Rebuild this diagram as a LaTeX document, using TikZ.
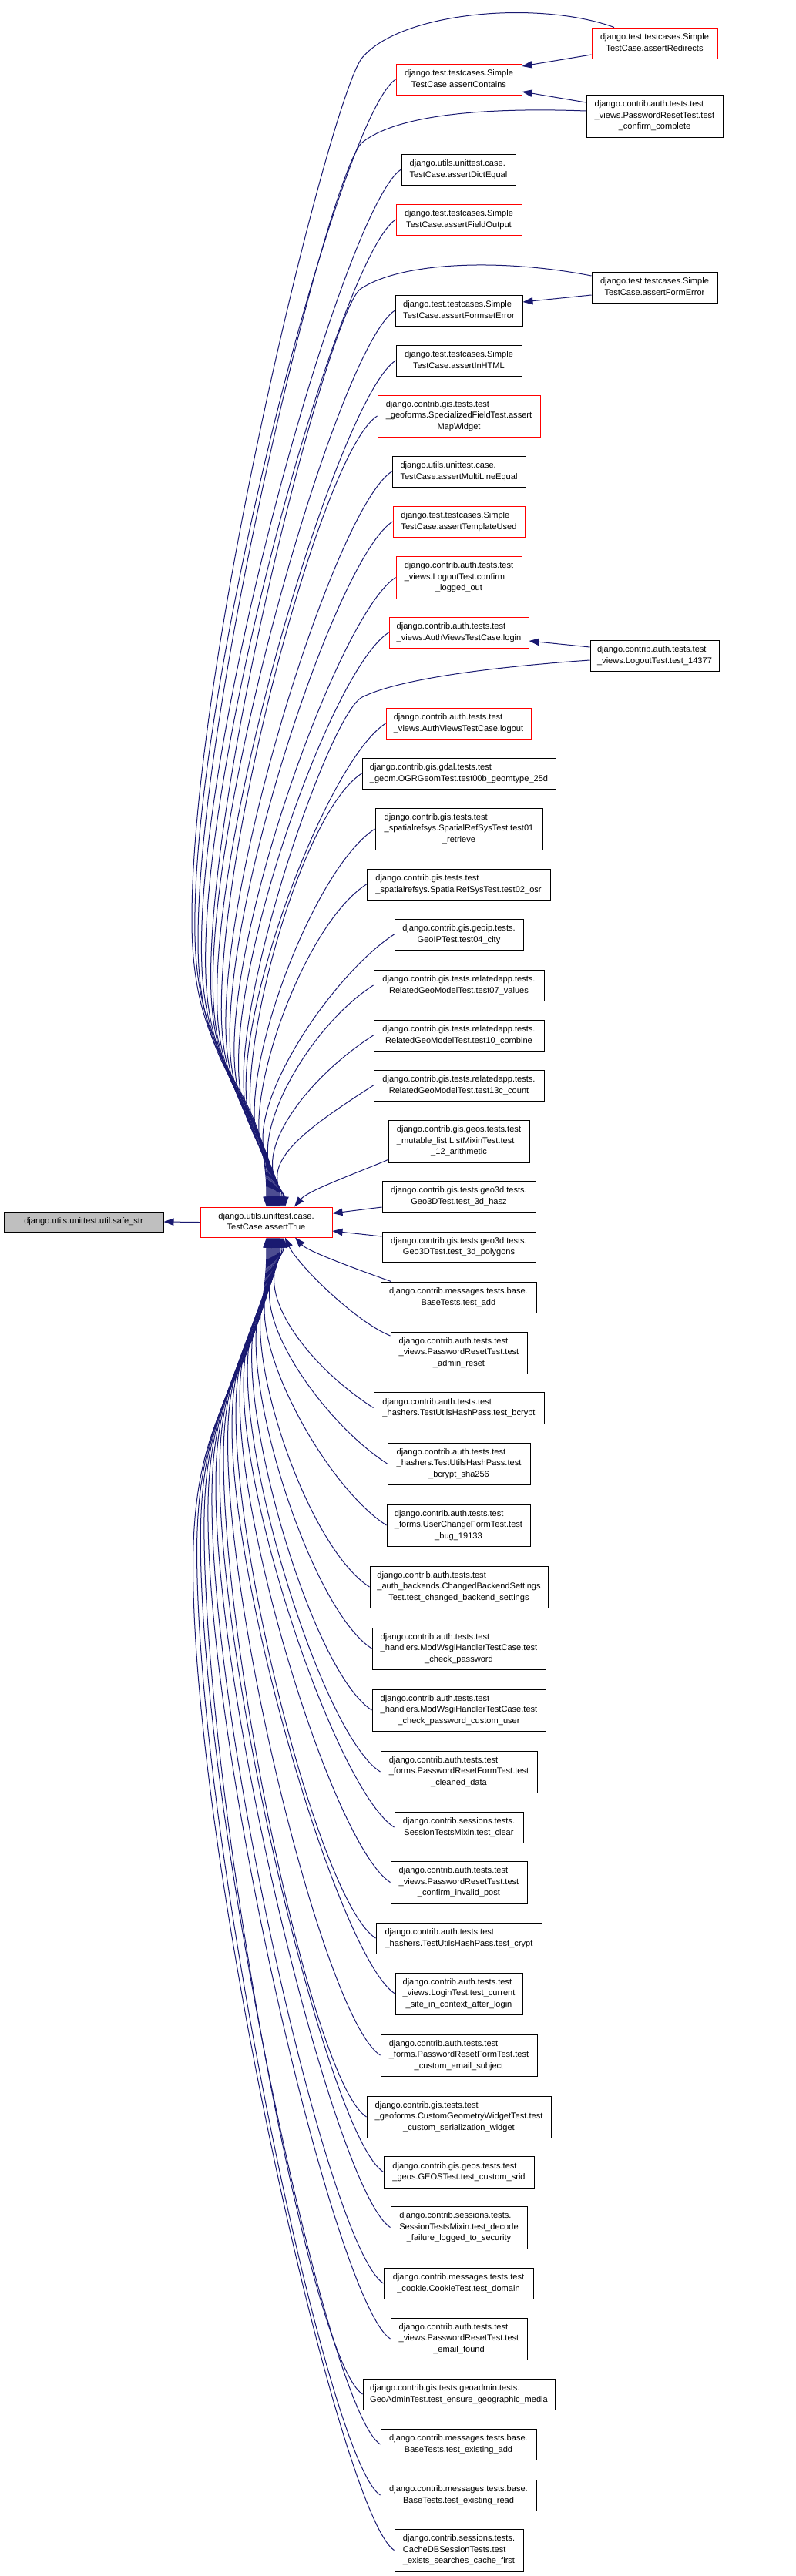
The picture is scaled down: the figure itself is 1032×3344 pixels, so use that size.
\documentclass[tikz,border=0pt]{standalone}
\usepackage{fontspec}
\setmainfont{Liberation Sans}
\usetikzlibrary{arrows.meta,calc}
\definecolor{edgeblue}{HTML}{191970}
\definecolor{nodegray}{HTML}{BFBFBF}
\newcommand{\TL}[2]{\begin{tabular}{@{}l@{}}#1\multicolumn{1}{@{}c@{}}{#2}\end{tabular}}
\newcommand{\nd}[7]{\node[box,draw=#6,minimum width={(#4-#2)*0.75pt},minimum height={(#5-#3)*0.75pt}] (#1) at ({(#2+#4)/2},{(#3+#5)/2}) {#7};}
% top fan: name, y of node centre, x of arrow end
\newcommand{\TE}[3]{%
 \pgfmathsetmacro{\fD}{1567-#2}%
 \pgfmathsetmacro{\fWx}{#3-0.065*\fD}%
 \pgfmathsetmacro{\fWy}{1567-0.25*\fD}%
 \pgfmathsetmacro{\fCa}{\fWy-0.3*(\fWy-#2)}%
 \pgfmathsetmacro{\fCb}{\fWy+0.55*(1567-\fWy)}%
 \pgfmathsetmacro{\fCc}{1567-0.45*(1567-\fWy)}%
 \draw[edge] (#1.west) .. controls ($(#1.west)+(-70,45)$) and (\fWx,\fCa) .. (\fWx,\fWy) .. controls (\fWx,\fCb) and (#3,\fCc) .. ($(at.north)+(#3-345.5,0)$);}
% bottom fan
\newcommand{\BE}[3]{%
 \pgfmathsetmacro{\fD}{#2-1606}%
 \pgfmathsetmacro{\fWx}{#3-0.056*\fD}%
 \pgfmathsetmacro{\fWy}{1606+0.25*\fD}%
 \pgfmathsetmacro{\fCa}{\fWy+0.3*(#2-\fWy)}%
 \pgfmathsetmacro{\fCb}{\fWy-0.55*(\fWy-1606)}%
 \pgfmathsetmacro{\fCc}{1606+0.45*(\fWy-1606)}%
 \draw[edge] (#1.west) .. controls ($(#1.west)+(-70,-45)$) and (\fWx,\fCa) .. (\fWx,\fWy) .. controls (\fWx,\fCb) and (#3,\fCc) .. ($(at.south)+(#3-345.5,0)$);}
\begin{document}
\begin{tikzpicture}[x=0.75pt,y=-0.75pt,
 box/.style={rectangle,inner sep=0pt,line width=0.75pt,fill=white,font=\fontsize{8.3}{10.9}\selectfont},
 edge/.style={draw=edgeblue,line width=0.75pt,-{Triangle[length=9.75pt,width=7pt]}}]
\useasboundingbox (0,0) rectangle (1032,3344);
\node[box,draw=black,fill=nodegray,minimum width={207*0.75pt},minimum height={26*0.75pt}] (safe) at (108.5,1586) {django.utils.unittest.util.safe\_str};
\nd{at}{260}{1567}{431}{1606}{red}{\TL{django.utils.unittest.case.\\}{TestCase.assertTrue}}
\nd{redirects}{768}{36}{931}{76}{red}{\TL{django.test.testcases.Simple\\}{TestCase.assertRedirects}}
\nd{contains}{514}{83}{677}{123}{red}{\TL{django.test.testcases.Simple\\}{TestCase.assertContains}}
\nd{cc}{761}{123}{938}{178}{black}{\TL{django.contrib.auth.tests.test\\\_views.PasswordResetTest.test\\}{\_confirm\_complete}}
\nd{dict}{521}{200}{669}{240}{black}{\TL{django.utils.unittest.case.\\}{TestCase.assertDictEqual}}
\nd{field}{514}{265}{677}{305}{red}{\TL{django.test.testcases.Simple\\}{TestCase.assertFieldOutput}}
\nd{formerror}{768}{353}{931}{393}{black}{\TL{django.test.testcases.Simple\\}{TestCase.assertFormError}}
\nd{formset}{513}{383}{678}{423}{black}{\TL{django.test.testcases.Simple\\}{TestCase.assertFormsetError}}
\nd{inhtml}{514}{448}{677}{488}{black}{\TL{django.test.testcases.Simple\\}{TestCase.assertInHTML}}
\nd{mapw}{490}{513}{701}{567}{red}{\TL{django.contrib.gis.tests.test\\\_geoforms.SpecializedFieldTest.assert\\}{MapWidget}}
\nd{multiline}{509}{592}{682}{632}{black}{\TL{django.utils.unittest.case.\\}{TestCase.assertMultiLineEqual}}
\nd{template}{510}{657}{681}{697}{red}{\TL{django.test.testcases.Simple\\}{TestCase.assertTemplateUsed}}
\nd{loggedout}{514}{722}{677}{777}{red}{\TL{django.contrib.auth.tests.test\\\_views.LogoutTest.confirm\\}{\_logged\_out}}
\nd{login}{505}{801}{686}{841}{red}{\TL{django.contrib.auth.tests.test\\}{\_views.AuthViewsTestCase.login}}
\nd{t14377}{766}{831}{933}{871}{black}{\TL{django.contrib.auth.tests.test\\}{\_views.LogoutTest.test\_14377}}
\nd{logout}{501}{919}{689}{959}{red}{\TL{django.contrib.auth.tests.test\\}{\_views.AuthViewsTestCase.logout}}
\nd{tzb}{470}{984}{721}{1024}{black}{\TL{django.contrib.gis.gdal.tests.test\\}{\_geom.OGRGeomTest.test00b\_geomtype\_25d}}
\nd{tza}{487}{1049}{704}{1103}{black}{\TL{django.contrib.gis.tests.test\\\_spatialrefsys.SpatialRefSysTest.test01\\}{\_retrieve}}
\nd{tzc}{476}{1128}{714}{1168}{black}{\TL{django.contrib.gis.tests.test\\}{\_spatialrefsys.SpatialRefSysTest.test02\_osr}}
\nd{city}{512}{1193}{679}{1233}{black}{\TL{django.contrib.gis.geoip.tests.\\}{GeoIPTest.test04\_city}}
\nd{values}{485}{1259}{706}{1299}{black}{\TL{django.contrib.gis.tests.relatedapp.tests.\\}{RelatedGeoModelTest.test07\_values}}
\nd{combine}{485}{1324}{706}{1364}{black}{\TL{django.contrib.gis.tests.relatedapp.tests.\\}{RelatedGeoModelTest.test10\_combine}}
\nd{count}{485}{1389}{706}{1429}{black}{\TL{django.contrib.gis.tests.relatedapp.tests.\\}{RelatedGeoModelTest.test13c\_count}}
\nd{arith}{504}{1454}{687}{1509}{black}{\TL{django.contrib.gis.geos.tests.test\\\_mutable\_list.ListMixinTest.test\\}{\_12\_arithmetic}}
\nd{hasz}{496}{1533}{695}{1573}{black}{\TL{django.contrib.gis.tests.geo3d.tests.\\}{Geo3DTest.test\_3d\_hasz}}
\nd{poly}{496}{1599}{695}{1638}{black}{\TL{django.contrib.gis.tests.geo3d.tests.\\}{Geo3DTest.test\_3d\_polygons}}
\nd{add}{494}{1664}{696}{1704}{black}{\TL{django.contrib.messages.tests.base.\\}{BaseTests.test\_add}}
\nd{adminreset}{507}{1729}{684}{1783}{black}{\TL{django.contrib.auth.tests.test\\\_views.PasswordResetTest.test\\}{\_admin\_reset}}
\nd{bcrypt}{485}{1807}{706}{1848}{black}{\TL{django.contrib.auth.tests.test\\}{\_hashers.TestUtilsHashPass.test\_bcrypt}}
\nd{sha}{503}{1873}{688}{1927}{black}{\TL{django.contrib.auth.tests.test\\\_hashers.TestUtilsHashPass.test\\}{\_bcrypt\_sha256}}
\nd{bug}{502}{1953}{688}{2007}{black}{\TL{django.contrib.auth.tests.test\\\_forms.UserChangeFormTest.test\\}{\_bug\_19133}}
\nd{backend}{480}{2033}{711}{2087}{black}{\TL{django.contrib.auth.tests.test\\\_auth\_backends.ChangedBackendSettings\\}{Test.test\_changed\_backend\_settings}}
\nd{checkpw}{483}{2113}{708}{2167}{black}{\TL{django.contrib.auth.tests.test\\\_handlers.ModWsgiHandlerTestCase.test\\}{\_check\_password}}
\nd{checkpwcu}{483}{2193}{708}{2247}{black}{\TL{django.contrib.auth.tests.test\\\_handlers.ModWsgiHandlerTestCase.test\\}{\_check\_password\_custom\_user}}
\nd{cleaned}{494}{2273}{697}{2327}{black}{\TL{django.contrib.auth.tests.test\\\_forms.PasswordResetFormTest.test\\}{\_cleaned\_data}}
\nd{clear}{512}{2352}{679}{2392}{black}{\TL{django.contrib.sessions.tests.\\}{SessionTestsMixin.test\_clear}}
\nd{invalid}{507}{2416}{684}{2471}{black}{\TL{django.contrib.auth.tests.test\\\_views.PasswordResetTest.test\\}{\_confirm\_invalid\_post}}
\nd{crypt}{488}{2496}{703}{2536}{black}{\TL{django.contrib.auth.tests.test\\}{\_hashers.TestUtilsHashPass.test\_crypt}}
\nd{cursite}{513}{2561}{678}{2615}{black}{\TL{django.contrib.auth.tests.test\\\_views.LoginTest.test\_current\\}{\_site\_in\_context\_after\_login}}
\nd{subject}{494}{2641}{697}{2695}{black}{\TL{django.contrib.auth.tests.test\\\_forms.PasswordResetFormTest.test\\}{\_custom\_email\_subject}}
\nd{serial}{476}{2721}{715}{2775}{black}{\TL{django.contrib.gis.tests.test\\\_geoforms.CustomGeometryWidgetTest.test\\}{\_custom\_serialization\_widget}}
\nd{srid}{498}{2799}{693}{2840}{black}{\TL{django.contrib.gis.geos.tests.test\\}{\_geos.GEOSTest.test\_custom\_srid}}
\nd{decode}{507}{2864}{684}{2919}{black}{\TL{django.contrib.sessions.tests.\\SessionTestsMixin.test\_decode\\}{\_failure\_logged\_to\_security}}
\nd{domain}{498}{2944}{692}{2984}{black}{\TL{django.contrib.messages.tests.test\\}{\_cookie.CookieTest.test\_domain}}
\nd{emailfound}{507}{3009}{684}{3063}{black}{\TL{django.contrib.auth.tests.test\\\_views.PasswordResetTest.test\\}{\_email\_found}}
\nd{geomedia}{471}{3088}{720}{3128}{black}{\TL{django.contrib.gis.tests.geoadmin.tests.\\}{GeoAdminTest.test\_ensure\_geographic\_media}}
\nd{exadd}{494}{3153}{696}{3193}{black}{\TL{django.contrib.messages.tests.base.\\}{BaseTests.test\_existing\_add}}
\nd{exread}{494}{3219}{696}{3259}{black}{\TL{django.contrib.messages.tests.base.\\}{BaseTests.test\_existing\_read}}
\nd{cache}{512}{3283}{679}{3338}{black}{\TL{django.contrib.sessions.tests.\\CacheDBSessionTests.test\\}{\_exists\_searches\_cache\_first}}
% edges
\draw[edge] (at.west) -- (safe.east);
\draw[edge] ($(redirects.west)+(0,15)$) -- ($(contains.east)+(0,-17)$);
\draw[edge] ($(cc.west)+(0,-17.5)$) -- ($(contains.east)+(0,16)$);
\draw[edge] ($(formerror.west)+(0,10)$) -- ($(formset.east)+(0,-11)$);
\draw[edge] ($(t14377.west)+(0,-11)$) -- ($(login.east)+(0,11)$);
\draw[edge] ($(redirects.north)+(-52.5,0)$) .. controls (700,0) and (520,15) .. (470,75) .. controls (430,123) and (249,858) .. (249,1194) .. controls (249,1399) and (346,1399) .. ($(at.north)+(0.5,0)$);
\draw[edge] ($(cc.west)+(0,-6.5)$) .. controls (650,140) and (520,145) .. (470,185) .. controls (430,217) and (257,910.6) .. (257,1221.5) .. controls (257,1411.5) and (347,1411.5) .. ($(at.north)+(1.5,0)$);
\draw[edge] ($(formerror.west)+(0,-15)$) .. controls (650,335) and (520,340) .. (468,375) .. controls (428,402) and (273.5,1000.8) .. (273.5,1269) .. controls (273.5,1432.9) and (351,1432.9) .. ($(at.north)+(5.5,0)$);
\draw[edge] ($(t14377.west)+(0,6)$) .. controls (650,865) and (520,880) .. (470,905) .. controls (430,925) and (316,1252.5) .. (316,1401.5) .. controls (316,1492.5) and (359,1492.5) .. ($(at.north)+(13.5,0)$);
\TE{contains}{103}{348}
\TE{dict}{220}{349}
\TE{field}{285}{350}
\TE{formset}{403}{352}
\TE{inhtml}{468}{353}
\TE{mapw}{540}{354}
\TE{multiline}{612}{355}
\TE{template}{677}{356}
\TE{loggedout}{749.5}{357}
\TE{login}{821}{358}
\TE{logout}{939}{360}
\TE{tzb}{1004}{361}
\TE{tza}{1076}{362}
\TE{tzc}{1148}{363}
\TE{city}{1213}{364}
\TE{values}{1279}{366}
\TE{combine}{1344}{368}
\TE{count}{1409}{370}
\draw[edge] ($(arith.south west)+(0,-4)$) .. controls (470,1520) and (400,1545) .. ($(at.north)+(36.5,0)$);
\draw[edge] ($(hasz.west)+(0,14)$) -- ($(at.east)+(0,-11.5)$);
\draw[edge] ($(poly.west)+(0,-13.5)$) -- ($(at.east)+(0,11.5)$);
\draw[edge] ($(add.north west)+(14,0)$) .. controls (470,1650) and (400,1625) .. ($(at.south)+(37.5,0)$);
\draw[edge] ($(adminreset.west)+(0,-22)$) .. controls (460,1715) and (385,1640) .. ($(at.south)+(24.5,0)$);
\BE{bcrypt}{1827.5}{368}
\BE{sha}{1900}{366}
\BE{bug}{1980}{364}
\BE{backend}{2060}{363}
\BE{checkpw}{2140}{362}
\BE{checkpwcu}{2220}{361}
\BE{cleaned}{2300}{360}
\BE{clear}{2372}{359}
\BE{invalid}{2443.5}{358}
\BE{crypt}{2516}{357}
\BE{cursite}{2588}{356}
\BE{subject}{2668}{355}
\BE{serial}{2748}{354}
\BE{srid}{2819.5}{353}
\BE{decode}{2891.5}{352}
\BE{domain}{2964}{351}
\BE{emailfound}{3036}{350}
\BE{geomedia}{3108}{349}
\BE{exadd}{3173}{348}
\BE{exread}{3239}{347}
\BE{cache}{3310.5}{346}
\end{tikzpicture}
\end{document}
